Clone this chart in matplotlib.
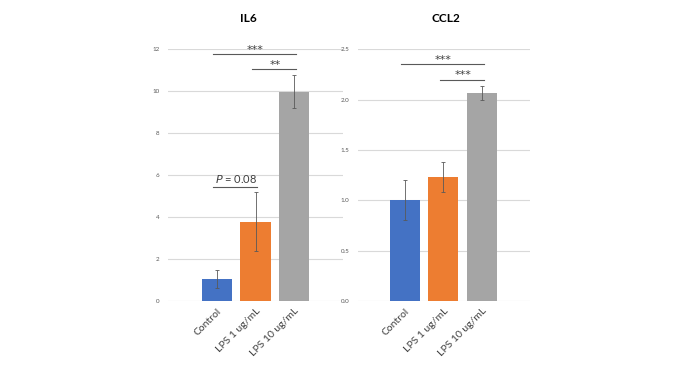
import matplotlib
matplotlib.use("Agg")
import matplotlib.pyplot as plt

plt.rcParams["font.family"] = ["Lato", "DejaVu Sans"]

categories = ["Control", "LPS 1 ug/mL", "LPS 10 ug/mL"]
bar_colors = ["#4472C4", "#ED7D31", "#A5A5A5"]

il6_mean = [1.05, 3.78, 9.97]
il6_err = [0.42, 1.42, 0.80]
il6_ticks = [0, 2, 4, 6, 8, 10, 12]

ccl2_mean = [1.00, 1.23, 2.07]
ccl2_err = [0.20, 0.15, 0.07]
ccl2_ticks = [0.0, 0.5, 1.0, 1.5, 2.0, 2.5]

# (left bar, right bar, line height, label)
il6_sig = [(0, 2, 11.75, "***"), (1, 2, 11.03, "**"), (0, 1, 5.44, "$\\it{P}$ = 0.08")]
ccl2_sig = [(0, 2, 2.35, "***"), (1, 2, 2.20, "***")]

W, H = 692, 380
fig = plt.figure(figsize=(W / 100, H / 100), dpi=100)


def panel(x0, x1, y0, y1, title, means, errs, ticks, fmt, sigs, xlim, title_x):
    ax = fig.add_axes([x0 / W, 1 - y0 / H, (x1 - x0) / W, (y0 - y1) / H])
    x = range(len(categories))
    ax.bar(x, means, width=0.78, color=bar_colors, zorder=2)
    ax.errorbar(x, means, yerr=errs, fmt="none", ecolor="#595959",
                elinewidth=0.6, capsize=1.5, capthick=0.6, zorder=3)
    ax.set_ylim(ticks[0], ticks[-1])
    ax.set_xlim(*xlim)
    ax.set_yticks(ticks)
    ax.set_yticklabels([fmt.format(t) for t in ticks], fontsize=4.5, color="#595959")
    ax.grid(axis="y", color="#d9d9d9", linewidth=0.8, zorder=0)
    ax.tick_params(length=0, pad=6)
    for s in ["top", "right", "left", "bottom"]:
        ax.spines[s].set_visible(False)
    ax.set_xticks(list(x))
    ax.set_xticklabels(categories, rotation=45, ha="right", rotation_mode="anchor",
                       fontsize=7.5, color="#404040")
    ax.tick_params(axis="x", pad=4)
    for a, b, h, lab in sigs:
        ax.plot([a - 0.1, b + 0.05], [h, h], color="#595959", lw=0.8, clip_on=False, zorder=4)
        if "P" in lab:
            ax.annotate(lab, ((a + b) / 2, h), xytext=(0, 1.5), textcoords="offset points",
                        ha="center", va="bottom", fontsize=8, color="#404040")
        else:
            ax.annotate(lab, ((a + b) / 2, h), xytext=(0, 1.0), textcoords="offset points",
                        ha="center", va="baseline", fontsize=8, color="#404040",
                        family="DejaVu Sans", annotation_clip=False)
    fig.text(title_x / W, 1 - 19 / H, title, ha="center", va="center",
             fontsize=8.5, fontweight="bold", color="black")
    return ax


panel(168, 343, 301, 49, "IL6", il6_mean, il6_err, il6_ticks, "{:g}",
      il6_sig, (-1.27, 3.27), 248)
panel(358, 530, 301, 49.3, "CCL2", ccl2_mean, ccl2_err, ccl2_ticks, "{:.1f}",
      ccl2_sig, (-1.22, 3.25), 446)

fig.savefig("out.png", dpi=100)
